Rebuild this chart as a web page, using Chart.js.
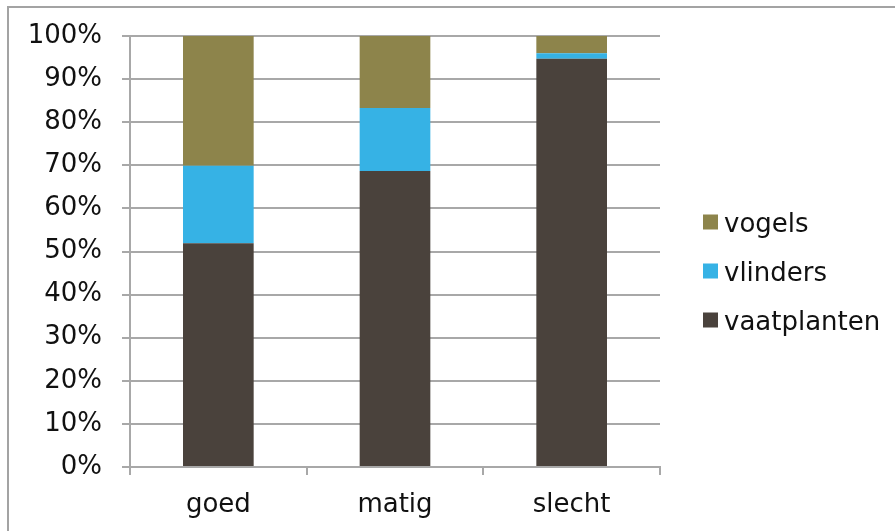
<!DOCTYPE html>
<html>
<head>
<meta charset="utf-8">
<script src="https://cdn.jsdelivr.net/npm/chart.js@4"></script>
<style>
  html, body { margin: 0; padding: 0; background: #ffffff; }
  #wrap { position: relative; width: 895px; height: 531px; }
</style>
</head>
<body>
<div id="wrap"><canvas id="chart" width="895" height="531"></canvas></div>
<script>
// Share of species groups per condition class (percent of total)
const categories = ['goed', 'matig', 'slecht'];
const vaatplanten = [51.9, 68.7, 94.7];
const vlinders = [18.0, 14.6, 1.3];
const vogels = [30.1, 16.7, 4.0];
const yTicks = [0, 10, 20, 30, 40, 50, 60, 70, 80, 90, 100];

const FONT = 'DejaVu Sans, Verdana, sans-serif';
const GRID = '#a8a8a8';
const TEXT = '#111111';

// Frame line along the top and left edge of the figure
const framePlugin = {
  id: 'frame',
  beforeDraw(chart) {
    const ctx = chart.ctx;
    ctx.save();
    ctx.strokeStyle = '#a3a3a3';
    ctx.lineWidth = 2;
    ctx.beginPath();
    ctx.moveTo(895, 7);
    ctx.lineTo(8, 7);
    ctx.lineTo(8, 531);
    ctx.stroke();
    ctx.restore();
  }
};

// Legend on the right, series listed top-down in reverse stacking order
const sideLegend = {
  id: 'sideLegend',
  afterDraw(chart) {
    const ctx = chart.ctx;
    const sets = chart.data.datasets.slice().reverse();
    const boxX = 703, textX = 724, firstY = 222, step = 49, box = 15;
    ctx.save();
    ctx.font = '26px ' + FONT;
    ctx.textAlign = 'left';
    ctx.textBaseline = 'alphabetic';
    sets.forEach((ds, i) => {
      const cy = firstY + i * step;
      ctx.fillStyle = ds.backgroundColor;
      ctx.fillRect(boxX, cy - box / 2, box, box);
      ctx.fillStyle = TEXT;
      ctx.fillText(ds.label, textX, cy + 10);
    });
    ctx.restore();
  }
};

new Chart(document.getElementById('chart'), {
  type: 'bar',
  data: {
    labels: categories,
    datasets: [
      { label: 'vaatplanten', data: vaatplanten, backgroundColor: '#4A423C' },
      { label: 'vlinders', data: vlinders, backgroundColor: '#36B2E5' },
      { label: 'vogels', data: vogels, backgroundColor: '#8D844B' }
    ]
  },
  options: {
    responsive: false,
    animation: false,
    devicePixelRatio: 1,
    layout: { padding: { left: 0, top: 36, right: 235, bottom: 0 } },
    datasets: {
      bar: { barPercentage: 0.4, categoryPercentage: 1.0, borderWidth: 0 }
    },
    plugins: {
      legend: { display: false },
      tooltip: { enabled: false }
    },
    scales: {
      x: {
        stacked: true,
        offset: true,
        grid: {
          display: true,
          offset: true,
          drawOnChartArea: false,
          drawTicks: true,
          tickLength: 8,
          color: GRID,
          lineWidth: 2
        },
        border: { display: true, color: GRID, width: 2 },
        ticks: {
          color: TEXT,
          font: { family: FONT, size: 26 },
          padding: 15,
          maxRotation: 0
        },
        afterFit(scale) { scale.height = 64; }
      },
      y: {
        stacked: true,
        min: 0,
        max: 100,
        afterBuildTicks(scale) {
          scale.ticks = yTicks.map(v => ({ value: v }));
        },
        grid: {
          color: GRID,
          lineWidth: 2,
          drawTicks: true,
          tickLength: 8
        },
        border: { display: true, color: GRID, width: 2 },
        ticks: {
          color: TEXT,
          font: { family: FONT, size: 26 },
          padding: 20,
          callback: v => v + '%'
        },
        afterFit(scale) { scale.width = 130; }
      }
    }
  },
  plugins: [framePlugin, sideLegend]
});
</script>
</body>
</html>
